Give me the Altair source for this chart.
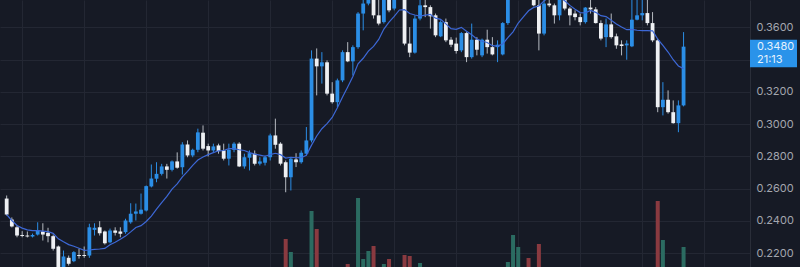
import altair as alt
import pandas as pd

# ---- data (prices) ----
opens = [0.2539, 0.2409, 0.2361, 0.2313, 0.2310, 0.2304, 0.2316, 0.2335, 0.2327, 0.2306,
         0.2242, 0.2105, 0.2172, 0.2151, 0.2189, 0.2189, 0.2186, 0.2345, 0.2361, 0.2335,
         0.2268, 0.2341, 0.2335, 0.2331, 0.2392, 0.2445, 0.2445, 0.2465, 0.2614, 0.2662,
         0.2692, 0.2738, 0.2717, 0.2769, 0.2733, 0.2874, 0.2806, 0.2841, 0.2947, 0.2864,
         0.2837, 0.2868, 0.2837, 0.2786, 0.2841, 0.2879, 0.2738, 0.2792, 0.2817, 0.2755,
         0.2761, 0.2795, 0.2930, 0.2879, 0.2764, 0.2671, 0.2781, 0.2764, 0.2817, 0.2899,
         0.3406, 0.3358, 0.3383, 0.3189, 0.3136, 0.3271, 0.3446, 0.3389, 0.3477, 0.3685,
         0.3747, 0.3786, 0.3674, 0.3632, 0.3779, 0.3716, 0.3829, 0.3779, 0.3499, 0.3443,
         0.3654, 0.3736, 0.3725, 0.3674, 0.3544, 0.3632, 0.3523, 0.3499, 0.3457, 0.3564,
         0.3415, 0.3523, 0.3426, 0.3523, 0.3477, 0.3477, 0.3432, 0.3626, 0.3850, 0.3920,
         0.3960, 0.3900, 0.3800, 0.3736, 0.3561, 0.3747, 0.3736, 0.3674, 0.3773, 0.3716,
         0.3685, 0.3663, 0.3632, 0.3722, 0.3711, 0.3626, 0.3539, 0.3618, 0.3544, 0.3494,
         0.3488, 0.3482, 0.3647, 0.3674, 0.3688, 0.3626, 0.3519, 0.3105, 0.3151, 0.3074,
         0.3006, 0.3116]
highs = [0.2558, 0.2422, 0.2372, 0.2337, 0.2335, 0.2322, 0.2392, 0.2386, 0.2358, 0.2316,
         0.2248, 0.2217, 0.2186, 0.2213, 0.2229, 0.2242, 0.2383, 0.2386, 0.2399, 0.2341,
         0.2353, 0.2361, 0.2361, 0.2414, 0.2510, 0.2508, 0.2570, 0.2620, 0.2750, 0.2764,
         0.2754, 0.2754, 0.2775, 0.2825, 0.2888, 0.2899, 0.2848, 0.2972, 0.2992, 0.2879,
         0.2879, 0.2879, 0.2879, 0.2879, 0.2888, 0.2888, 0.2817, 0.2837, 0.2837, 0.2795,
         0.2806, 0.2941, 0.3034, 0.2888, 0.2775, 0.2795, 0.2820, 0.2837, 0.2982, 0.3457,
         0.3469, 0.3446, 0.3395, 0.3260, 0.3282, 0.3457, 0.3508, 0.3488, 0.3694, 0.3780,
         0.3829, 0.3817, 0.3770, 0.3817, 0.3804, 0.3829, 0.3854, 0.3804, 0.3601, 0.3674,
         0.3786, 0.3786, 0.3736, 0.3685, 0.3643, 0.3654, 0.3539, 0.3536, 0.3570, 0.3570,
         0.3623, 0.3539, 0.3530, 0.3585, 0.3539, 0.3519, 0.3632, 0.3890, 0.3960, 0.4010,
         0.3990, 0.3930, 0.3840, 0.3779, 0.3786, 0.3779, 0.3747, 0.3798, 0.3798, 0.3725,
         0.3705, 0.3685, 0.3725, 0.3775, 0.3725, 0.3643, 0.3654, 0.3685, 0.3561, 0.3519,
         0.3519, 0.3780, 0.3775, 0.3772, 0.3770, 0.3694, 0.3530, 0.3260, 0.3209, 0.3147,
         0.3147, 0.3570]
lows = [0.2434, 0.2360, 0.2299, 0.2299, 0.2298, 0.2298, 0.2310, 0.2279, 0.2268, 0.2217,
        0.2093, 0.2081, 0.2124, 0.2145, 0.2167, 0.2172, 0.2172, 0.2310, 0.2310, 0.2254,
        0.2262, 0.2310, 0.2299, 0.2321, 0.2383, 0.2403, 0.2440, 0.2459, 0.2608, 0.2640,
        0.2682, 0.2663, 0.2707, 0.2724, 0.2688, 0.2795, 0.2795, 0.2826, 0.2837, 0.2800,
        0.2825, 0.2817, 0.2775, 0.2744, 0.2826, 0.2734, 0.2724, 0.2713, 0.2744, 0.2744,
        0.2744, 0.2775, 0.2848, 0.2744, 0.2578, 0.2589, 0.2734, 0.2755, 0.2806, 0.2887,
        0.3178, 0.3251, 0.3178, 0.3127, 0.3105, 0.3260, 0.3384, 0.3302, 0.3467, 0.3581,
        0.3736, 0.3654, 0.3612, 0.3623, 0.3693, 0.3705, 0.3773, 0.3488, 0.3415, 0.3437,
        0.3643, 0.3663, 0.3592, 0.3539, 0.3539, 0.3508, 0.3477, 0.3437, 0.3446, 0.3384,
        0.3406, 0.3426, 0.3415, 0.3437, 0.3426, 0.3384, 0.3426, 0.3615, 0.3830, 0.3890,
        0.3870, 0.3800, 0.3730, 0.3457, 0.3550, 0.3725, 0.3623, 0.3643, 0.3705, 0.3612,
        0.3643, 0.3612, 0.3623, 0.3685, 0.3623, 0.3519, 0.3477, 0.3530, 0.3467, 0.3426,
        0.3399, 0.3477, 0.3643, 0.3643, 0.3612, 0.3508, 0.3074, 0.3054, 0.3065, 0.3003,
        0.2950, 0.3110]
closes = [0.2440, 0.2366, 0.2310, 0.2307, 0.2304, 0.2314, 0.2341, 0.2316, 0.2306, 0.2228,
          0.2105, 0.2180, 0.2135, 0.2207, 0.2183, 0.2183, 0.2361, 0.2358, 0.2324, 0.2262,
          0.2341, 0.2327, 0.2321, 0.2403, 0.2445, 0.2459, 0.2470, 0.2616, 0.2663, 0.2692,
          0.2738, 0.2717, 0.2769, 0.2730, 0.2874, 0.2806, 0.2841, 0.2949, 0.2848, 0.2837,
          0.2862, 0.2833, 0.2786, 0.2841, 0.2879, 0.2738, 0.2795, 0.2820, 0.2755, 0.2769,
          0.2795, 0.2930, 0.2872, 0.2755, 0.2671, 0.2786, 0.2764, 0.2823, 0.2899, 0.3406,
          0.3358, 0.3383, 0.3189, 0.3136, 0.3271, 0.3446, 0.3389, 0.3477, 0.3685, 0.3747,
          0.3798, 0.3674, 0.3623, 0.3779, 0.3705, 0.3798, 0.3786, 0.3499, 0.3443, 0.3654,
          0.3736, 0.3725, 0.3668, 0.3550, 0.3632, 0.3519, 0.3492, 0.3453, 0.3564, 0.3415,
          0.3523, 0.3461, 0.3523, 0.3477, 0.3432, 0.3492, 0.3626, 0.3850, 0.3920, 0.3960,
          0.3900, 0.3840, 0.3736, 0.3561, 0.3747, 0.3736, 0.3674, 0.3773, 0.3716, 0.3674,
          0.3663, 0.3632, 0.3722, 0.3711, 0.3626, 0.3530, 0.3618, 0.3539, 0.3488, 0.3484,
          0.3499, 0.3647, 0.3674, 0.3688, 0.3626, 0.3519, 0.3105, 0.3151, 0.3074, 0.3006,
          0.3116, 0.3480]
volumes = [0.5, 0.6, 0.4, 0.3, 0.3, 0.3, 0.5, 0.6, 0.4, 0.7,
           0.9, 0.8, 0.5, 0.6, 0.3, 0.4, 0.9, 0.5, 0.6, 0.7,
           0.6, 0.3, 0.4, 0.5, 0.7, 0.4, 0.5, 0.8, 0.9, 0.6,
           0.5, 0.4, 0.5, 0.6, 0.9, 0.7, 0.4, 0.8, 0.7, 0.4,
           0.3, 0.4, 0.5, 0.6, 0.4, 0.8, 0.6, 0.5, 0.6, 0.3,
           0.4, 0.9, 0.8, 0.7, 3.8, 2.5, 0.6, 0.7, 0.9, 6.6,
           4.8, 0.9, 0.8, 0.7, 0.6, 0.9, 1.3, 0.8, 7.9, 1.8,
           2.6, 3.1, 0.9, 1.3, 1.8, 0.9, 0.8, 2.2, 2.1, 0.9,
           1.4, 0.6, 0.7, 0.8, 0.6, 0.7, 0.4, 0.5, 0.6, 0.8,
           0.7, 0.5, 0.6, 0.5, 0.4, 0.6, 0.9, 1.5, 4.2, 3.0,
           0.9, 1.9, 0.8, 3.3, 0.9, 0.5, 0.6, 0.7, 0.6, 0.5,
           0.4, 0.5, 0.6, 0.4, 0.5, 0.8, 0.7, 0.6, 0.5, 0.4,
           0.5, 0.9, 0.6, 0.4, 0.6, 0.9, 7.6, 3.7, 0.9, 0.8,
           0.9, 3.0]
y_ticks = [0.22, 0.24, 0.26, 0.28, 0.30, 0.32, 0.34, 0.36]
hidden_tick = 0.34   # its label sits under the last-price box
x_grid = [3, 15, 27, 39, 51, 63, 75, 87, 99, 111, 123, 135]
countdown = "21:13"
ma_period = 10

# ---- styles ----
BG = "#161a25"
GRID = "#232733"
UP = "#2b8ee6"
DOWN = "#eef0f3"
DOWN_WICK = "#b6bac1"
VOL_UP = "#2b6b61"
VOL_DOWN = "#8a3a40"
MA_COL = "#3d68d6"
BOX = "#2a93ea"
FONT = "Inter"

n = len(closes)
df = pd.DataFrame({
    "i": list(range(n)),
    "open": opens, "high": highs, "low": lows, "close": closes,
    "volume": volumes, "base": [0] * n,
})

x_scale = alt.Scale(domain=[-0.325, 142.89], nice=False, zero=False)
y_scale = alt.Scale(domain=[0.2115, 0.3769], nice=False, zero=False)
v_scale = alt.Scale(domain=[1.0, 27.7], nice=False, zero=False)

xaxis = alt.Axis(values=x_grid, labels=False, ticks=False, domain=False, grid=True,
                 gridColor=GRID, gridWidth=1, title=None)
yaxis = alt.Axis(orient="right", values=y_ticks,
                 labelExpr=f"abs(datum.value - {hidden_tick}) < 1e-6 ? '' : format(datum.value, '.4f')",
                 labelColor="#a3a6ae",
                 labelFont=FONT, labelFontSize=11, labelPadding=6, ticks=False, tickSize=0,
                 domain=True, domainColor="#2a2e39", grid=True, gridColor=GRID, gridWidth=1,
                 title=None, labelFlush=False)

X = alt.X("i:Q", scale=x_scale, axis=xaxis)
is_up = "datum.close >= datum.open"
base = alt.Chart(df)

volume = base.mark_bar(width=4, clip=True).encode(
    x=X,
    y=alt.Y("volume:Q", scale=v_scale, axis=None),
    y2="base:Q",
    color=alt.condition(is_up, alt.value(VOL_UP), alt.value(VOL_DOWN)),
)

wick = base.mark_rule(strokeWidth=1, clip=True).encode(
    x=X,
    y=alt.Y("low:Q", scale=y_scale, axis=yaxis),
    y2="high:Q",
    color=alt.condition(is_up, alt.value(UP), alt.value(DOWN_WICK)),
)

body = base.mark_bar(width=3.8, clip=True).encode(
    x=X,
    y=alt.Y("open:Q", scale=y_scale, axis=yaxis),
    y2="close:Q",
    color=alt.condition(is_up, alt.value(UP), alt.value(DOWN)),
)

ma = base.transform_window(
    ma="mean(close)", frame=[-(ma_period - 1), 0], sort=[alt.SortField("i")]
).mark_line(color=MA_COL, strokeWidth=1.2, clip=True).encode(
    x=X,
    y=alt.Y("ma:Q", scale=y_scale, axis=yaxis),
)

label_df = pd.DataFrame({
    "price": [closes[-1]],
    "label": [f"{closes[-1]:.4f}"],
    "countdown": [countdown],
})
lab = alt.Chart(label_df)
box = lab.mark_rect(color=BOX, yOffset=-7, y2Offset=20.5).encode(
    x=alt.value(750), x2=alt.value(797),
    y=alt.Y("price:Q", scale=y_scale, axis=yaxis), y2="price:Q",
)
txt1 = lab.mark_text(align="left", baseline="middle", font=FONT, fontSize=11,
                     color="#e4f1fd").encode(
    x=alt.value(757), y=alt.Y("price:Q", scale=y_scale, axis=yaxis), text="label:N")
txt2 = lab.mark_text(align="left", baseline="middle", font=FONT, fontSize=11,
                     color="#e4f1fd", dy=13.5).encode(
    x=alt.value(757), y=alt.Y("price:Q", scale=y_scale, axis=yaxis), text="countdown:N")

price = alt.layer(wick, body, ma, box, txt1, txt2)

chart = alt.layer(volume, price).resolve_scale(y="independent").properties(
    width=750, height=267,
    padding={"left": 0, "top": 0, "right": 50, "bottom": 0},
    autosize=alt.AutoSizeParams(type="none"),
    background=BG,
).configure_view(strokeWidth=0)

chart.save("out.html", embed_options={"renderer": "svg", "actions": False})
